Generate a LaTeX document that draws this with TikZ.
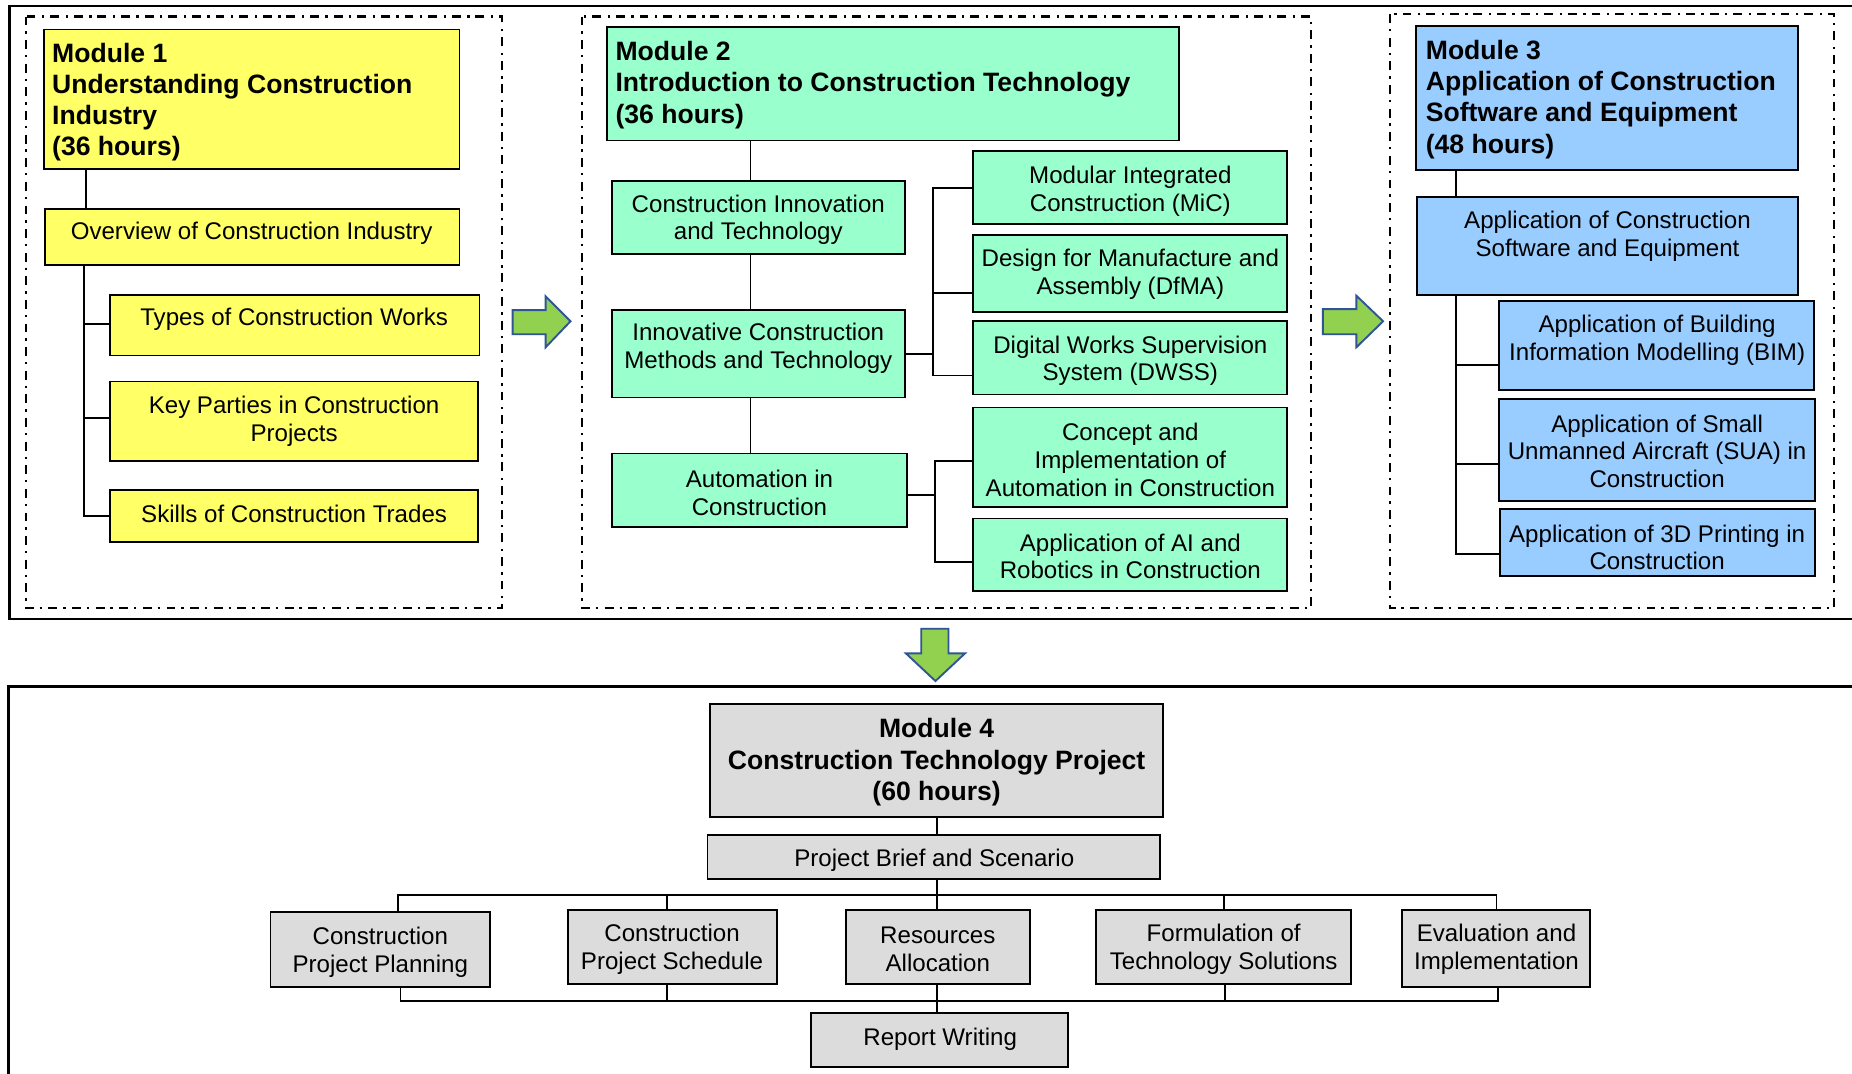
\documentclass[tikz,border=0pt]{standalone}
\usepackage{fontspec}
\setmainfont{Liberation Sans}
\usetikzlibrary{calc}
\definecolor{cyel}{HTML}{FFFF66}
\definecolor{cgrn}{HTML}{99FFCC}
\definecolor{cblu}{HTML}{99CCFF}
\definecolor{cgry}{HTML}{DCDCDC}
\definecolor{carf}{HTML}{92D050}
\definecolor{cars}{HTML}{2F5597}
\newcommand\mkbox[6]{%
  \pgfmathsetmacro\myBW{#5-#3}\pgfmathsetmacro\myBH{#6-#4}%
  \node[#2, minimum width=\myBW pt, minimum height=\myBH pt] (#1) at ({(#3+#5)/2},{(#4+#6)/2}) {};}
\tikzset{
  boxbase/.style={draw=black, line width=1.6pt, inner sep=0pt, outer sep=0pt, rectangle},
  ybox/.style={boxbase, fill=cyel},
  gbox/.style={boxbase, fill=cgrn},
  bbox/.style={boxbase, fill=cblu},
  kbox/.style={boxbase, fill=cgry},
  txt/.style={inner sep=0pt, align=center, yshift=-2.5pt, font=\fontsize{20.4}{23.5}\selectfont},
  ttl/.style={inner sep=0pt, align=left, yshift=-2.5pt, font=\fontsize{22.5}{26.5}\selectfont\bfseries},
  ttlc/.style={inner sep=0pt, align=center, yshift=-2.5pt, font=\fontsize{22.5}{26.5}\selectfont\bfseries},
  conn/.style={draw=black, line width=1.5pt},
  frame/.style={draw=black, line width=2.2pt},
  dashdot/.style={draw=black, line width=1.8pt, dash pattern=on 7.5pt off 5pt on 2pt off 5.5pt},
  bigarrow/.style={fill=carf, draw=cars, line width=1.6pt, line join=miter},
}
\begin{document}
\begin{tikzpicture}[x=1pt,y=-1pt]
\useasboundingbox (0,0) rectangle (1568,909.3);
\fill[white] (0,0) rectangle (1568,909.3);

% frames
\draw[frame] (8,5) rectangle (1585,524);
\draw[frame] (7,581) rectangle (1585,930);
\draw[dashdot] (22,14) rectangle (425,515);
\draw[dashdot] (493,14) rectangle (1110,515);
\draw[dashdot] (1177,12) rectangle (1553,515);

% ---------- Module 1 ----------
\mkbox{m1}{ybox}{37}{25}{389}{143}
\mkbox{ov}{ybox}{38}{177}{389}{224}
\mkbox{types}{ybox}{93}{250}{406}{301}
\mkbox{key}{ybox}{93}{323}{405}{390}
\mkbox{skills}{ybox}{93}{415}{405}{459}
\node[ttl, anchor=west] (m1t) at (44,84) {Module 1\\Understanding Construction\\Industry\\(36 hours)};
\node[txt] (ovt) at (213,195) {Overview of Construction Industry};
\node[txt] (typest) at (249,268) {Types of Construction Works};
\node[txt] (keyt) at (249,354) {Key Parties in Construction\\Projects};
\node[txt] (skillst) at (249,433) {Skills of Construction Trades};
\draw[conn] ([xshift=35.6pt]m1.south west) -- ([xshift=34.6pt]ov.north west);
\coordinate (t1) at ([xshift=33.3pt]ov.south west);
\draw[conn] (t1) |- ([yshift=1.5pt]types.west);
\draw[conn] (t1) |- ([yshift=2.5pt]key.west);
\draw[conn] (t1) |- (skills.west);

% ---------- Module 2 ----------
\mkbox{m2}{gbox}{514}{23}{998}{119}
\mkbox{cit}{gbox}{518}{153}{766}{215}
\mkbox{icmt}{gbox}{518}{262.5}{766}{336.5}
\mkbox{aic}{gbox}{518}{384}{768}{446}
\mkbox{mic}{gbox}{824}{128}{1090}{190}
\mkbox{dfma}{gbox}{824}{199}{1090}{264}
\mkbox{dwss}{gbox}{824}{272}{1090}{334}
\mkbox{conc}{gbox}{824}{345}{1090}{429}
\mkbox{airo}{gbox}{824}{439}{1090}{500}
\node[ttl, anchor=west] (m2t) at (521,69.5) {Module 2\\Introduction to Construction Technology\\(36 hours)};
\node[txt] (citt) at (642,183.5) {Construction Innovation\\and Technology};
\node[txt] (icmtt) at (642,292.5) {Innovative Construction\\Methods and Technology};
\node[txt] (aict) at (643,414.5) {Automation in\\Construction};
\node[txt] (mict) at (957,159.5) {Modular Integrated\\Construction (MiC)};
\node[txt] (dfmat) at (957,229.5) {Design for Manufacture and\\Assembly (DfMA)};
\node[txt] (dwsst) at (957,303) {Digital Works Supervision\\System (DWSS)};
\node[txt] (conct) at (957,387) {Concept and\\Implementation of\\Automation in Construction};
\node[txt] (airot) at (957,468.5) {Application of AI and\\Robotics in Construction};
\coordinate (m2a) at ([xshift=121.5pt]m2.south west);
\draw[conn] (m2a) -- (m2a |- cit.north);
\draw[conn] (m2a |- cit.south) -- (m2a |- icmt.north);
\draw[conn] (m2a |- icmt.south) -- (m2a |- aic.north);
\coordinate (b1) at ($(icmt.east)+(24pt,0)$);
\draw[conn] (icmt.east) -- (b1);
\draw[conn] (b1) |- (mic.west);
\draw[conn] (b1) |- ([yshift=-16.3pt]dfma.west);
\draw[conn] (b1) |- ([yshift=-15pt]dwss.west);
\coordinate (b2) at ($(aic.east)+(23.5pt,-4pt)$);
\draw[conn] ([yshift=-4pt]aic.east) -- (b2);
\draw[conn] (b2) |- ([yshift=-3pt]conc.west);
\draw[conn] (b2) |- ([yshift=-6pt]airo.west);

% ---------- Module 3 ----------
\mkbox{m3}{bbox}{1199}{22}{1522}{143.6}
\mkbox{acse}{bbox}{1200}{167}{1522}{250}
\mkbox{bim}{bbox}{1269}{255}{1536}{330}
\mkbox{sua}{bbox}{1269}{337.5}{1536.5}{424.5}
\mkbox{tdp}{bbox}{1269.6}{430.6}{1537}{487.5}
\node[ttl, anchor=west] (m3t) at (1207,81.5) {Module 3\\Application of Construction\\Software and Equipment\\(48 hours)};
\node[txt] (acset) at (1361,197.5) {Application of Construction\\Software and Equipment};
\node[txt] (bimt) at (1403,285.5) {Application of Building\\Information Modelling (BIM)};
\node[txt] (suat) at (1403,379.5) {Application of Small\\Unmanned Aircraft (SUA) in\\Construction};
\node[txt] (tdpt) at (1403,461) {Application of 3D Printing in\\Construction};
\coordinate (m3a) at ([xshift=34pt]m3.south west);
\draw[conn] (m3a) -- (m3a |- acse.north);
\coordinate (m3b) at (m3a |- acse.south);
\draw[conn] (m3b) |- ([yshift=-16.5pt]bim.west);
\draw[conn] (m3b) |- ([yshift=-11.7pt]sua.west);
\draw[conn] (m3b) |- ([yshift=-10pt]tdp.west);

% ---------- arrows ----------
\filldraw[bigarrow] (434,262.6) -- (462,262.6) -- (462,251) -- (483,272) -- (462,294) -- (462,283) -- (434,283) -- cycle;
\filldraw[bigarrow] (1120,261.7) -- (1148.4,261.7) -- (1148.4,250.4) -- (1171,272) -- (1148.4,294) -- (1148.4,283) -- (1120,283) -- cycle;
\filldraw[bigarrow] (780,532.3) -- (803,532.3) -- (803,553.2) -- (817,553.2) -- (792,576.6) -- (767,553.2) -- (780,553.2) -- cycle;

% ---------- Module 4 ----------
\mkbox{m4}{kbox}{601}{596.4}{985}{692}
\mkbox{brief}{kbox}{599}{707}{982}{744}
\mkbox{cpp}{kbox}{229}{772.5}{415}{835.4}
\mkbox{cps}{kbox}{481}{770.5}{658}{833.2}
\mkbox{ra}{kbox}{716}{770.5}{872}{833.2}
\mkbox{fts}{kbox}{928}{770.5}{1144}{833.2}
\mkbox{ei}{kbox}{1187}{770.7}{1346}{835.4}
\mkbox{rep}{kbox}{687}{858}{904}{903}
\node[ttlc] (m4t) at (793,643) {Module 4\\Construction Technology Project\\(60 hours)};
\node[txt] (brieft) at (791,726) {Project Brief and Scenario};
\node[txt] (cppt) at (322,804) {Construction\\Project Planning};
\node[txt] (cpst) at (569,801.5) {Construction\\Project Schedule};
\node[txt] (rat) at (794,801.5) {Resources\\Allocation};
\node[txt] (ftst) at (1036,801.5) {Formulation of\\Technology Solutions};
\node[txt] (eit) at (1267,801.5) {Evaluation and\\Implementation};
\node[txt] (rept) at (796,877) {Report Writing};
\draw[conn] (m4.south) -- (m4.south |- brief.north);
\coordinate (bus1) at (793,757.8);
\draw[conn] (brief.south -| bus1) -- (bus1);
\draw[conn] ([xshift=15pt]cpp.north) |- (bus1) -| ([xshift=0.5pt]ei.north);
\draw[conn] ([xshift=-4.5pt]cps.north) -- ([xshift=-4.5pt]cps.north |- bus1);
\draw[conn] (ra.north -| bus1) -- (bus1);
\draw[conn] (fts.north) -- (fts.north |- bus1);
\coordinate (bus2) at (793,847.6);
\draw[conn] ([xshift=17pt]cpp.south) |- (bus2) -| ([xshift=1.5pt]ei.south);
\draw[conn] ([xshift=-4.5pt]cps.south) -- ([xshift=-4.5pt]cps.south |- bus2);
\draw[conn] ([xshift=1pt]fts.south) -- ([xshift=1pt]fts.south |- bus2);
\draw[conn] (ra.south -| bus2) -- (rep.north -| bus2);
\end{tikzpicture}
\end{document}
